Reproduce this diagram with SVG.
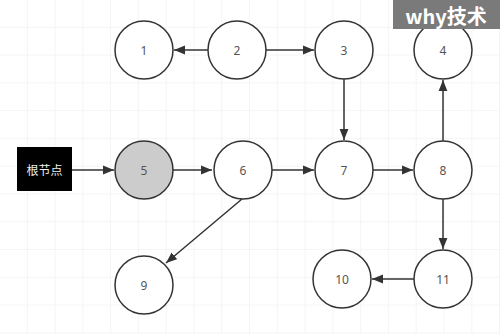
<svg xmlns="http://www.w3.org/2000/svg" width="500" height="334" viewBox="0 0 500 334">
<defs>
<pattern id="grid" width="27.78" height="27.78" patternUnits="userSpaceOnUse" x="0" y="0">
<path d="M27.78 0 V27.78 M0 27.78 H27.78" fill="none" stroke="#ececec" stroke-width="1"/>
</pattern>
<marker id="arr" viewBox="0 0 10 10" refX="10" refY="5" markerWidth="11" markerHeight="11" markerUnits="userSpaceOnUse" orient="auto">
<path d="M0 1 L10 5 L0 9 Z" fill="#333"/>
</marker>
<style>
.n circle{fill:#fff;stroke:#333;stroke-width:1.5}
.n text{font-family:"Noto Sans","Liberation Sans",sans-serif;font-size:12px;fill:#555;text-anchor:middle;dominant-baseline:central}
#edges line{stroke:#333;stroke-width:1.5;marker-end:url(#arr)}
</style>
</defs>
<rect width="500" height="334" fill="#fff"/>
<rect width="500" height="334" fill="url(#grid)"/>
<g id="edges">
<line x1="208" y1="50" x2="174" y2="50"/>
<line x1="266" y1="50" x2="314" y2="50"/>
<line x1="344" y1="79" x2="344" y2="140"/>
<line x1="443" y1="141" x2="443" y2="80"/>
<line x1="443" y1="199" x2="443" y2="249"/>
<line x1="414" y1="279" x2="372" y2="279"/>
<line x1="72" y1="170" x2="114" y2="170"/>
<line x1="173" y1="170" x2="212" y2="170"/>
<line x1="272" y1="170" x2="314" y2="170"/>
<line x1="373" y1="170" x2="413" y2="170"/>
<line x1="242" y1="199" x2="166" y2="263"/>
</g>
<g id="n1" class="n"><circle cx="144" cy="50" r="29"/><text x="144" y="50">1</text></g>
<g id="n2" class="n"><circle cx="237" cy="50" r="29"/><text x="237" y="50">2</text></g>
<g id="n3" class="n"><circle cx="344" cy="50" r="29"/><text x="344" y="50">3</text></g>
<g id="n4" class="n"><circle cx="443" cy="50" r="29"/><text x="443" y="50">4</text></g>
<g id="n5" class="n"><circle cx="144" cy="170" r="29" style="fill:#ccc"/><text x="144" y="170">5</text></g>
<g id="n6" class="n"><circle cx="243" cy="170" r="29"/><text x="243" y="170">6</text></g>
<g id="n7" class="n"><circle cx="344" cy="170" r="29"/><text x="344" y="170">7</text></g>
<g id="n8" class="n"><circle cx="443" cy="170" r="29"/><text x="443" y="170">8</text></g>
<g id="n9" class="n"><circle cx="144" cy="285" r="29"/><text x="144" y="285">9</text></g>
<g id="n10" class="n"><circle cx="342" cy="279" r="29"/><text x="342" y="279">10</text></g>
<g id="n11" class="n"><circle cx="443" cy="279" r="29"/><text x="443" y="279">11</text></g>
<g id="root">
<rect x="17" y="147" width="55" height="44" fill="#000"/>
<text x="44.5" y="169" font-family="Noto Sans CJK SC, sans-serif" font-size="12" fill="#eee" text-anchor="middle" dominant-baseline="central">根节点</text>
</g>
<g id="watermark">
<rect x="393" y="0" width="107" height="29" fill="#7a7a7a"/>
<text x="446" y="15" font-family="Noto Sans CJK SC, sans-serif" font-size="20" font-weight="bold" fill="#fff" text-anchor="middle" dominant-baseline="central">why技术</text>
</g>
</svg>
